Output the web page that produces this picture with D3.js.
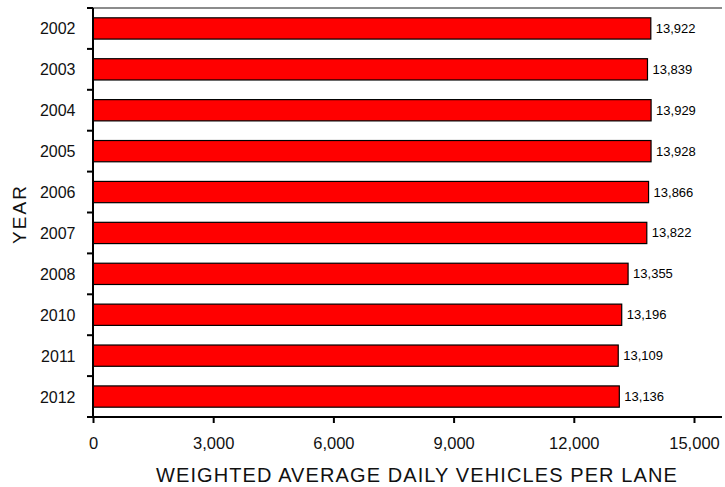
<!DOCTYPE html>
<html>
<head>
<style>
    body { margin: 0; background: #fff; }
    svg { font-family: Arial, "Liberation Sans", sans-serif; }
</style>
</head>
<body>
<div id="chart"></div>
<script src="https://cdnjs.cloudflare.com/ajax/libs/d3/7.8.5/d3.min.js"></script>
<script>
var years = ["2002", "2003", "2004", "2005", "2006", "2007", "2008", "2010", "2011", "2012"];
var vehicles = [13922, 13839, 13929, 13928, 13866, 13822, 13355, 13196, 13109, 13136];
var xTicks = [0, 3000, 6000, 9000, 12000, 15000];

(function() {
    var width = 725, height = 487;
    var left = 93, top = 8, bottom = 417, right = 722;

    var svg = d3.select("#chart").append("svg")
        .attr("width", width)
        .attr("height", height);

    var x = d3.scaleLinear().domain([0, 15000]).range([left, 694]);
    var y = d3.scaleBand().domain(years).range([top, bottom]).paddingInner(0.48).paddingOuter(0.24);

    var data = years.map(function(d, i) { return { year: d, v: vehicles[i] }; });

    // top frame line
    svg.append("line")
        .attr("x1", left).attr("x2", right)
        .attr("y1", top).attr("y2", top)
        .attr("stroke", "#666").attr("stroke-width", 1.5);

    svg.selectAll(".bar")
        .data(data)
        .enter().append("rect")
        .attr("class", "bar")
        .attr("x", x(0))
        .attr("y", function(d) { return y(d.year); })
        .attr("width", function(d) { return x(d.v) - x(0); })
        .attr("height", y.bandwidth())
        .attr("fill", "#ff0000")
        .attr("stroke", "#000")
        .attr("stroke-width", 1.2);

    svg.selectAll(".val")
        .data(data)
        .enter().append("text")
        .attr("x", function(d) { return x(d.v) + 5; })
        .attr("y", function(d) { return y(d.year) + y.bandwidth() / 2 + 4.5; })
        .attr("font-size", "13px")
        .attr("fill", "#000")
        .text(function(d) { return d3.format(",")(d.v); });

    // y axis: ticks between categories
    var bounds = d3.range(years.length + 1).map(function(i) { return top + i * (bottom - top) / years.length; });
    svg.selectAll(".ytick")
        .data(bounds)
        .enter().append("line")
        .attr("x1", left - 6).attr("x2", left)
        .attr("y1", function(d) { return d; }).attr("y2", function(d) { return d; })
        .attr("stroke", "#000").attr("stroke-width", 2);
    svg.append("line")
        .attr("x1", left).attr("x2", left)
        .attr("y1", top).attr("y2", bottom)
        .attr("stroke", "#000").attr("stroke-width", 2);
    svg.selectAll(".ylab")
        .data(years)
        .enter().append("text")
        .attr("x", 75.5)
        .attr("y", function(d) { return y(d) + y.bandwidth() / 2 + 6; })
        .attr("text-anchor", "end")
        .attr("font-size", "16px")
        .attr("fill", "#111")
        .text(function(d) { return d; });

    // x axis
    var xAxis = svg.append("g")
        .attr("transform", "translate(0," + bottom + ")")
        .call(d3.axisBottom(x).tickValues(xTicks).tickSize(6).tickPadding(14.5).tickFormat(d3.format(",")));
    xAxis.select(".domain").remove();
    xAxis.selectAll(".tick line").attr("stroke-width", 2);
    xAxis.selectAll("text").attr("font-size", "16.5px").attr("fill", "#111")
        .attr("font-family", "Arial, 'Liberation Sans', sans-serif");
    svg.append("line")
        .attr("x1", left - 6).attr("x2", right)
        .attr("y1", bottom).attr("y2", bottom)
        .attr("stroke", "#000").attr("stroke-width", 2);

    svg.append("text")
        .attr("x", 417).attr("y", 482)
        .attr("text-anchor", "middle")
        .attr("font-size", "20px")
        .attr("letter-spacing", "1.1px")
        .attr("fill", "#111")
        .text("WEIGHTED AVERAGE DAILY VEHICLES PER LANE");

    svg.append("text")
        .attr("transform", "translate(26,214) rotate(-90)")
        .attr("text-anchor", "middle")
        .attr("font-size", "19px")
        .attr("letter-spacing", "2px")
        .attr("fill", "#111")
        .text("YEAR");
})();
</script>
</body>
</html>
